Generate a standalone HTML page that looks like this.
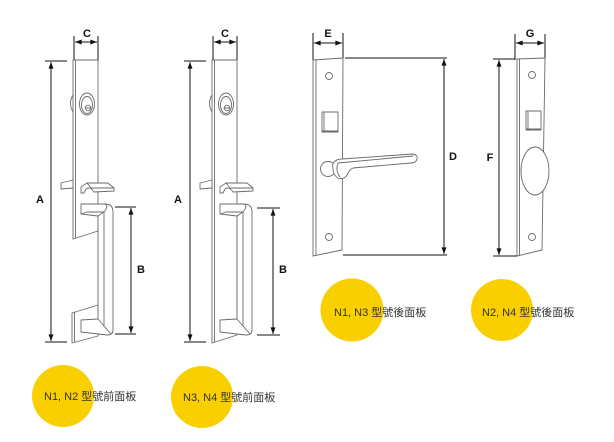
<!DOCTYPE html>
<html><head><meta charset="utf-8"><style>
html,body{margin:0;padding:0;background:#fff;}
svg{display:block;}
.d{fill:none;stroke:#6a6a6a;stroke-width:0.9;stroke-linejoin:round;stroke-linecap:round;}
.w{fill:#fff;stroke:#6a6a6a;stroke-width:0.9;stroke-linejoin:round;}
.k{stroke:#111;stroke-width:1;fill:none;}
.lb{font-family:"Liberation Sans",sans-serif;font-weight:bold;font-size:11px;fill:#111;}
.tx{font-family:"Liberation Sans","Noto Sans CJK TC",sans-serif;font-size:11px;fill:#333;}
</style></head><body>
<svg width="614" height="442" viewBox="0 0 614 442" xmlns="http://www.w3.org/2000/svg">
<defs>
<marker id="ar" viewBox="0 0 8 6" refX="8" refY="3" markerWidth="7" markerHeight="5" markerUnits="userSpaceOnUse" orient="auto-start-reverse"><path d="M0,0 L8,3 L0,6 Z" fill="#111"/></marker>
<g id="grip">
<path class="w" d="M220,204 L244,204 Q252,204 252,212 L252,330 Q252,335 246,335 L220,332 L220,320 L237,319 L237,216 L220,214 Z"/>
<path class="d" d="M237,216 L243,212 L243,326 L237,319 M243,326 L250,334 M244,204 Q248,206 243,212 M220,214 L226,212 L243,212"/>
</g>
<g id="thumb">
<path class="w" d="M200,183 L212,180 L212,188 L200,189 Z"/>
<path class="w" d="M220,187 L226,183 L247,183 L253,188 L253,191 L233,192 Q229,186 225,189 L223,193 L220,193 Z"/>
<path class="d" d="M226,183 L230,188 L253,188"/>
</g>
<g id="cyl">
<path class="d" d="M212,95 Q207,103 212,112"/>
<ellipse class="d" cx="226" cy="104" rx="7.5" ry="11"/>
<ellipse class="d" cx="226" cy="105" rx="5.5" ry="8.5"/>
<circle class="d" cx="227" cy="108" r="2.8"/>
<line class="d" x1="225" y1="108" x2="229" y2="108"/>
</g>
</defs>

<!-- Drawing 1 -->
<line class="k" x1="74" y1="36" x2="74" y2="60"/>
<line class="k" x1="98" y1="36" x2="98" y2="60"/>
<line class="k" x1="75" y1="42" x2="97" y2="42" marker-start="url(#ar)" marker-end="url(#ar)"/>
<text class="lb" x="87" y="37" text-anchor="middle">C</text>
<line class="k" x1="45" y1="61" x2="67" y2="61"/>
<line class="k" x1="45" y1="342" x2="67" y2="342"/>
<line class="k" x1="51" y1="62" x2="51" y2="341" marker-start="url(#ar)" marker-end="url(#ar)"/>
<text class="lb" x="40" y="203" text-anchor="middle">A</text>
<path class="w" d="M73,60 L98,60 L98,231 L73,239 Z"/>
<line class="d" x1="75.5" y1="60" x2="75.5" y2="238"/>
<path class="w" d="M72,313 L98,305 L98,336 L72,343 Z"/>
<line class="d" x1="74.5" y1="312" x2="74.5" y2="342"/>
<g transform="translate(-139,0)">
<use href="#cyl"/>
<use href="#thumb"/>
<use href="#grip"/>
</g>
<line class="k" x1="115" y1="207" x2="136" y2="207"/>
<line class="k" x1="115" y1="334" x2="136" y2="334"/>
<line class="k" x1="131" y1="208" x2="131" y2="333" marker-start="url(#ar)" marker-end="url(#ar)"/>
<text class="lb" x="141" y="273" text-anchor="middle">B</text>

<!-- Drawing 2 -->
<line class="k" x1="213" y1="36" x2="213" y2="60"/>
<line class="k" x1="237" y1="36" x2="237" y2="60"/>
<line class="k" x1="214" y1="42" x2="236" y2="42" marker-start="url(#ar)" marker-end="url(#ar)"/>
<text class="lb" x="225" y="37" text-anchor="middle">C</text>
<line class="k" x1="184" y1="61" x2="206" y2="61"/>
<line class="k" x1="184" y1="342" x2="206" y2="342"/>
<line class="k" x1="190" y1="62" x2="190" y2="341" marker-start="url(#ar)" marker-end="url(#ar)"/>
<text class="lb" x="178" y="203" text-anchor="middle">A</text>
<path class="w" d="M212,60 L237,60 L237,335 L212,343 Z"/>
<line class="d" x1="214.5" y1="60" x2="214.5" y2="342"/>
<use href="#cyl"/>
<use href="#thumb"/>
<use href="#grip"/>
<line class="k" x1="257" y1="208" x2="280" y2="208"/>
<line class="k" x1="257" y1="335" x2="280" y2="335"/>
<line class="k" x1="273" y1="209" x2="273" y2="334" marker-start="url(#ar)" marker-end="url(#ar)"/>
<text class="lb" x="283" y="273" text-anchor="middle">B</text>

<!-- Drawing 3 -->
<line class="k" x1="313" y1="33" x2="313" y2="60"/>
<line class="k" x1="343" y1="33" x2="343" y2="58"/>
<line class="k" x1="314" y1="43" x2="342" y2="43" marker-start="url(#ar)" marker-end="url(#ar)"/>
<text class="lb" x="328" y="37" text-anchor="middle">E</text>
<path class="w" d="M313,60 L343,58 L342,250 L313,256 Z"/>
<line class="d" x1="316" y1="60" x2="316" y2="255"/>
<circle class="d" cx="329" cy="76" r="3.5"/>
<circle class="d" cx="329" cy="237" r="3.5"/>
<rect class="d" x="322" y="112" width="16" height="20"/>
<line class="d" x1="324" y1="113" x2="324" y2="131"/>
<line class="d" x1="322" y1="131" x2="338" y2="131"/>
<circle class="w" cx="328" cy="169" r="7.5"/>
<path class="w" d="M334,162 Q337,159 342,159 L413,154 Q418,155 417,159 Q416,163 411,163 L353,168 Q349,170 347,175 Q344,180 338,178 Q333,175 333,169 Q332,164 334,162 Z"/>
<path class="d" d="M338,163 L413,156 M338,163 Q335,170 340,177"/>
<line class="k" x1="345" y1="58" x2="447" y2="58"/>
<line class="k" x1="343" y1="255" x2="447" y2="255"/>
<line class="k" x1="444" y1="59" x2="444" y2="254" marker-start="url(#ar)" marker-end="url(#ar)"/>
<text class="lb" x="453" y="160" text-anchor="middle">D</text>

<!-- Drawing 4 -->
<line class="k" x1="515" y1="34" x2="515" y2="60"/>
<line class="k" x1="545" y1="34" x2="545" y2="58"/>
<line class="k" x1="516" y1="43" x2="544" y2="43" marker-start="url(#ar)" marker-end="url(#ar)"/>
<text class="lb" x="530" y="37" text-anchor="middle">G</text>
<path class="w" d="M517,59 L545,58 L542,250 L517,256 Z"/>
<line class="d" x1="519.5" y1="59" x2="519.5" y2="255"/>
<circle class="d" cx="532" cy="75" r="3.5"/>
<circle class="d" cx="532" cy="237" r="3.5"/>
<rect class="d" x="526" y="111" width="15" height="19"/>
<line class="d" x1="528" y1="112" x2="528" y2="129"/>
<line class="d" x1="526" y1="129" x2="541" y2="129"/>
<path class="d" d="M523,162 Q519,171 523,180"/>
<ellipse class="w" cx="535" cy="171" rx="14" ry="24"/>
<line class="k" x1="493" y1="59" x2="515" y2="59"/>
<line class="k" x1="493" y1="256" x2="517" y2="256"/>
<line class="k" x1="499" y1="60" x2="499" y2="255" marker-start="url(#ar)" marker-end="url(#ar)"/>
<text class="lb" x="490" y="161" text-anchor="middle">F</text>

<!-- Yellow labels -->
<circle cx="63" cy="396" r="31" fill="#F9CF00"/>
<text class="tx" x="44" y="400">N1, N2 型號前面板</text>
<circle cx="202" cy="397" r="31" fill="#F9CF00"/>
<text class="tx" x="183" y="401">N3, N4 型號前面板</text>
<circle cx="352" cy="310" r="31.5" fill="#F9CF00"/>
<text class="tx" x="334" y="316">N1, N3 型號後面板</text>
<circle cx="502" cy="310" r="31" fill="#F9CF00"/>
<text class="tx" x="482" y="316">N2, N4 型號後面板</text>
</svg>
</body></html>
